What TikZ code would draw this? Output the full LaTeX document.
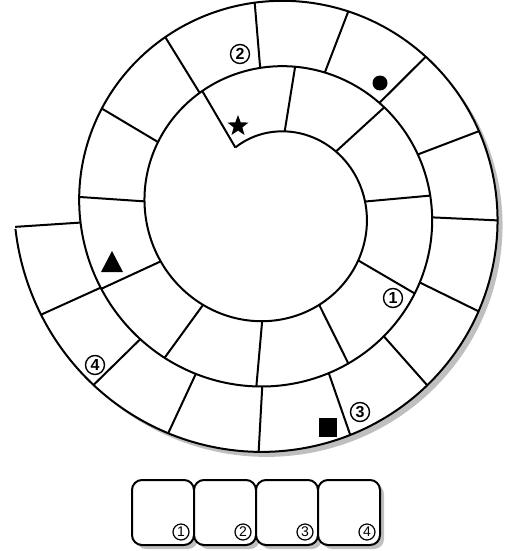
\documentclass[tikz,border=0pt]{standalone}
\usepackage{fontspec}
\setmainfont{Liberation Sans}
\usetikzlibrary{shapes.geometric}
\def\sCX{272}
\def\sCY{210}
\def\sRA{78}
\def\sRB{10.42}
\begin{document}
\begin{tikzpicture}[x=1pt,y=-1pt,line join=round,
  boardline/.style={line width=2pt},
  shadowfill/.style={fill=black!25},
  badge/.style={circle,draw,line width=1.4pt,minimum size=19pt,inner sep=0pt,font=\fontsize{16}{16}\selectfont\bfseries},
  smallbadge/.style={circle,draw,line width=1.2pt,minimum size=16pt,inner sep=0pt,font=\fontsize{14}{14}\selectfont},
  answerbox/.style={draw,line width=2pt,rounded corners=10pt,fill=white}]
\useasboundingbox (0,0) rectangle (507,551);
% shadow and white board
\fill[shadowfill,shift={(5,5)}] plot[smooth,domain=10.93:17.21,samples=200,variable=\t]
  ({\sCX+(\sRA+\sRB*\t)*sin(\t r)},{\sCY-(\sRA+\sRB*\t)*cos(\t r)}) -- cycle;
\fill[white] plot[smooth,domain=10.93:17.21,samples=200,variable=\t]
  ({\sCX+(\sRA+\sRB*\t)*sin(\t r)},{\sCY-(\sRA+\sRB*\t)*cos(\t r)}) -- cycle;
% spiral
\draw[boardline] plot[smooth,domain=-0.53:17.21,samples=400,variable=\t]
  ({\sCX+(\sRA+\sRB*\t)*sin(\t r)},{\sCY-(\sRA+\sRB*\t)*cos(\t r)});
% dividers
\foreach \p in {-0.53,0.16,0.83,1.48,2.1,2.68,3.23,3.77,4.28,4.78,5.25,5.73,6.20,6.65,7.07,7.49,7.90,8.31,8.70,9.09,9.48,9.86,10.22,10.57,10.93}{
  \draw[boardline] ({\sCX+(\sRA+\sRB*\p)*sin(\p r)},{\sCY-(\sRA+\sRB*\p)*cos(\p r)})
    -- ({\sCX+(\sRA+\sRB*(\p+2*pi))*sin(\p r)},{\sCY-(\sRA+\sRB*(\p+2*pi))*cos(\p r)});
}
% markers
\node[badge] (b2) at (240,54) {2};
\node[badge] (b1) at (393,298) {1};
\node[badge] (b3) at (360,412) {3};
\node[badge] (b4) at (95,365) {4};
\node[star,star points=5,star point ratio=2.4,fill,inner sep=0pt,minimum size=22pt] (starm) at (238,126) {};
\fill (380,83) circle (7.5);
\fill (112,251) -- (123,272) -- (101,272) -- cycle;
\fill (319,418) rectangle (337,437);
% answer boxes
\foreach \i/\x in {1/132,2/194,3/256,4/318}{
  \fill[shadowfill,rounded corners=10pt] (\x+4,484) rectangle (\x+66,549);
}
\foreach \i/\x in {1/132,2/194,3/256,4/318}{
  \draw[answerbox] (\x,480) rectangle (\x+62,545);
  \node[smallbadge] (n\i) at (\x+49,532) {\i};
}
\end{tikzpicture}
\end{document}
